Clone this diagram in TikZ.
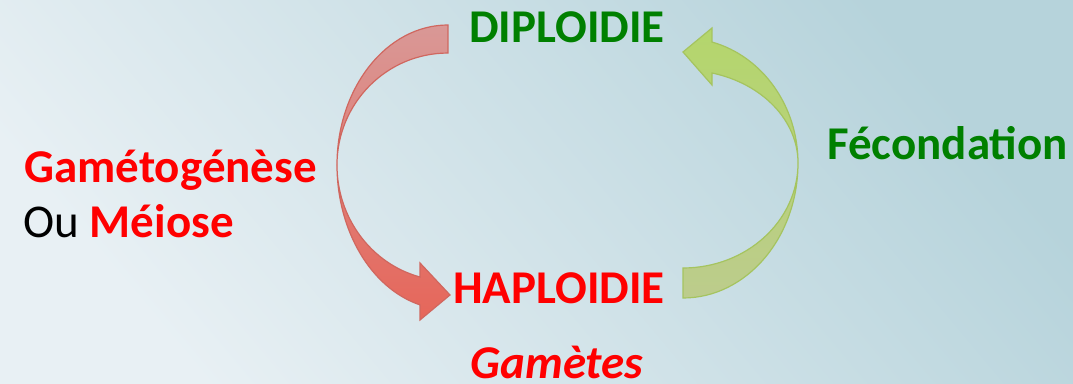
\documentclass[tikz,border=0pt]{standalone}
\usepackage{fontspec}
\setmainfont{Carlito}
\usepackage{tikz}
\usetikzlibrary{positioning}

\definecolor{skylight}{HTML}{E8F0F4}
\definecolor{skydark}{HTML}{B6D3DB}
\definecolor{textgreen}{HTML}{008000}
\definecolor{textred}{HTML}{FF0000}
\definecolor{meioTop}{HTML}{D99896}
\definecolor{meioBot}{HTML}{E6665A}
\definecolor{meioLine}{HTML}{D0675F}
\definecolor{fecTop}{HTML}{B4D66C}
\definecolor{fecBot}{HTML}{BCCC8C}
\definecolor{fecLine}{HTML}{A5C45F}

\begin{document}
\begin{tikzpicture} [x=0.5pt, y=0.5pt,
				ploidy/.style={
				% The anchor:
				anchor=base,
				inner sep=0pt,
				% The font:
				font=\fontsize{23.5}{28}\selectfont\bfseries
				},
				process/.style={
				% The anchor:
				anchor=base west,
				inner sep=0pt,
				% The font:
				font=\fontsize{23.5}{28}\selectfont,
				align=left
				},
				meioarrow/.style={
				% The border:
				draw=meioLine, line width=0.6pt,
				% The filling:
				top color=meioTop,
				bottom color=meioBot
				},
				fecarrow/.style={
				% The border:
				draw=fecLine, line width=0.6pt,
				% The filling:
				top color=fecTop,
				bottom color=fecBot
				},
				]
    % background
    \useasboundingbox (0,0) rectangle (1073,-384);
    \shade [top color=skylight, bottom color=skydark, shading angle=130]
        (0,0) rectangle (1073,-384);

    % red arrow: gametogenese
    \path [meioarrow] (448,-25)
        arc[start angle=90, end angle=180, x radius=111, y radius=140]
        arc[start angle=180, end angle=255.4, x radius=111, y radius=144.6]
        -- (420,-320) -- (450,-295) -- (420,-263) -- (420,-277)
        arc[start angle=255.4, end angle=180, x radius=111, y radius=115.7]
        arc[start angle=180, end angle=90, x radius=111, y radius=112]
        -- cycle;

    % green arrow: fecondation
    \path [fecarrow] (683,-298)
        arc[start angle=270, end angle=360, x radius=115, y radius=135]
        arc[start angle=0, end angle=75.4, x radius=115, y radius=125]
        -- (712,-28) -- (683,-52) -- (712,-85) -- (712,-73)
        arc[start angle=75.4, end angle=0, x radius=115, y radius=93]
        arc[start angle=360, end angle=270, x radius=115, y radius=105]
        -- cycle;

    % labels
    \node [ploidy, text=textgreen] (diplo) at (567,-43) {DIPLOIDIE};
    \node [ploidy, text=textred] (haplo) at (559,-304) {HAPLOIDIE};
    \node [ploidy, text=textred, font=\fontsize{23.5}{28}\selectfont\bfseries\itshape] (gametes) at (557,-379) {Gamètes};
    \node [process, text=textgreen, font=\fontsize{23.5}{28}\selectfont\bfseries] (fecond) at (827,-160) {Fécondation};
    \node [process, text=textred, font=\fontsize{23.5}{28}\selectfont\bfseries] (gameto) at (24,-183) {Gamétogénèse};
    \node [process] (meiose) at (23,-238) {Ou \textcolor{textred}{\bfseries Méiose}};
\end{tikzpicture}
\end{document}
